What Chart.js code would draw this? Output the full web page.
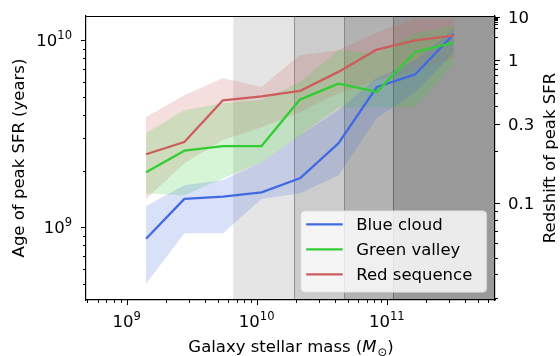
<!DOCTYPE html>
<html>
<head>
<meta charset="utf-8">
<script src="https://cdn.jsdelivr.net/npm/chart.js@4.4.0/dist/chart.umd.min.js"></script>
<style>
  html, body { margin: 0; padding: 0; background: #ffffff; }
  #wrap { width: 560px; height: 356px; }
</style>
</head>
<body>
<div id="wrap"><canvas id="c" width="560" height="356"></canvas></div>
<script>
// Stellar-mass bin centres (solar masses)
const massBins = [1.41e9, 2.78e9, 5.50e9, 1.09e10, 2.15e10, 4.25e10, 8.39e10, 1.66e11, 3.28e11];

// Age of peak star formation (years): median and 16th/84th percentile envelope
const blueMedian = [8.7e8, 1.42e9, 1.46e9, 1.54e9, 1.83e9, 2.81e9, 5.63e9, 6.58e9, 1.08e10];
const blueHigh   = [1.30e9, 1.68e9, 1.79e9, 2.23e9, 3.11e9, 4.23e9, 6.30e9, 7.80e9, 1.15e10];
const blueLow    = [5.0e8, 9.3e8, 9.3e8, 1.42e9, 1.52e9, 1.90e9, 3.84e9, 5.28e9, 8.6e9];

const greenMedian = [1.97e9, 2.57e9, 2.72e9, 2.72e9, 4.82e9, 5.87e9, 5.30e9, 8.66e9, 9.72e9];
const greenHigh   = [3.20e9, 4.23e9, 4.61e9, 4.79e9, 5.97e9, 8.84e9, 8.53e9, 1.09e10, 1.20e10];
const greenLow    = [1.52e9, 1.48e9, 1.83e9, 2.23e9, 3.11e9, 4.39e9, 4.39e9, 4.39e9, 7.54e9];

const redMedian = [2.46e9, 2.86e9, 4.78e9, 5.02e9, 5.36e9, 6.78e9, 8.92e9, 1.00e10, 1.06e10];
const redHigh   = [3.89e9, 5.08e9, 6.29e9, 5.63e9, 8.32e9, 8.84e9, 1.10e10, 1.31e10, 1.31e10];
const redLow    = [1.42e9, 2.20e9, 2.93e9, 3.43e9, 4.13e9, 5.22e9, 6.11e9, 6.92e9, 8.00e9];

// Axis ranges
const massRange = [4.87e8, 6.8e11];
const ageRange = [4.09e8, 1.349e10];

// Labelled ticks
const massMajor = [1e9, 1e10, 1e11];
const massMajorExp = ['9', '10', '11'];
const ageMajor = [1e9, 1e10];
const ageMajorExp = ['9', '10'];

// Redshift axis: redshift ticks and the matching lookback time (years)
const zTicks = [10, 9, 8, 7, 6, 5, 4, 3, 2, 1, 0.9, 0.8, 0.7, 0.6, 0.5, 0.4, 0.3, 0.2, 0.1, 0.09, 0.08, 0.07, 0.06, 0.05, 0.04, 0.03];
const zLookback = [1.328e10, 1.321e10, 1.312e10, 1.300e10, 1.284e10, 1.259e10, 1.223e10, 1.162e10, 1.046e10,
                   7.84e9, 7.44e9, 7.00e9, 6.50e9, 5.92e9, 5.25e9, 4.48e9, 3.58e9, 2.55e9,
                   1.35e9, 1.22e9, 1.09e9, 9.6e8, 8.3e8, 6.9e8, 5.6e8, 4.2e8];
const zLabelled = [10, 1, 0.3, 0.1];
const zLabelText = ['10', '1', '0.3', '0.1'];

// Shaded mass ranges (start of each band; the last runs to the axis edge)
const shadeStarts = [6.6e9, 1.94e10, 4.73e10, 1.11e11];
const shadeAlpha = [0.1, 0.2, 0.3, 0.4];

const groups = [
  { label: 'Blue cloud',   color: '#4169e1', band: 'rgba(65,105,225,0.2)', mid: blueMedian,  hi: blueHigh,  lo: blueLow },
  { label: 'Green valley', color: '#32cd32', band: 'rgba(50,205,50,0.2)',  mid: greenMedian, hi: greenHigh, lo: greenLow },
  { label: 'Red sequence', color: '#cd5c5c', band: 'rgba(205,92,92,0.2)',  mid: redMedian,   hi: redHigh,   lo: redLow }
];

const FONT = '"DejaVu Sans", sans-serif';
const FS = 16.5;

const pts = arr => massBins.map((m, i) => ({ x: m, y: arr[i] }));

const datasets = [];
groups.forEach((g, gi) => {
  datasets.push({
    label: g.label, data: pts(g.mid), borderColor: g.color, backgroundColor: g.color,
    borderWidth: 2.3, pointRadius: 0, fill: false, tension: 0,
    borderJoinStyle: 'round', order: 3 - gi, yAxisID: 'y'
  });
});
groups.forEach((g, gi) => {
  datasets.push({
    label: g.label + ' upper', data: pts(g.hi), borderColor: 'rgba(0,0,0,0)',
    pointRadius: 0, fill: false, tension: 0, order: 20 + gi * 2, yAxisID: 'y'
  });
  datasets.push({
    label: g.label + ' lower', data: pts(g.lo), borderColor: 'rgba(0,0,0,0)',
    backgroundColor: g.band, pointRadius: 0, fill: '-1', tension: 0,
    order: 21 + gi * 2, yAxisID: 'y'
  });
});

// Grey mass-range shading behind the data
const shading = {
  id: 'shading',
  beforeDatasetsDraw(chart) {
    const { ctx, chartArea: ca, scales: { x } } = chart;
    ctx.save();
    ctx.beginPath();
    ctx.rect(ca.left, ca.top, ca.right - ca.left, ca.bottom - ca.top);
    ctx.clip();
    shadeStarts.forEach((s, i) => {
      const x0 = x.getPixelForValue(s);
      const x1 = i < shadeStarts.length - 1 ? x.getPixelForValue(shadeStarts[i + 1]) : ca.right;
      ctx.fillStyle = 'rgba(0,0,0,' + shadeAlpha[i] + ')';
      ctx.fillRect(x0, ca.top, x1 - x0, ca.bottom - ca.top);
    });
    ctx.strokeStyle = 'rgba(0,0,0,0.3)';
    ctx.lineWidth = 1;
    shadeStarts.forEach((s, i) => {
      if (i === 0) return;
      const xp = Math.round(x.getPixelForValue(s)) + 0.5;
      ctx.beginPath();
      ctx.moveTo(xp, ca.top);
      ctx.lineTo(xp, ca.bottom);
      ctx.stroke();
    });
    ctx.restore();
  }
};

function drawPower(ctx, exp, x, yMid, align) {
  ctx.font = FS + 'px ' + FONT;
  const wb = ctx.measureText('10').width;
  ctx.font = (FS * 0.7) + 'px ' + FONT;
  const we = ctx.measureText(exp).width;
  const w = wb + we;
  const x0 = align === 'center' ? x - w / 2 : x - w;
  const base = yMid + 0.729 * FS / 2;
  ctx.textAlign = 'left';
  ctx.textBaseline = 'alphabetic';
  ctx.font = FS + 'px ' + FONT;
  ctx.fillText('10', x0, base);
  ctx.font = (FS * 0.7) + 'px ' + FONT;
  ctx.fillText(exp, x0 + wb, base - FS * 0.45);
}

// Tick marks, tick labels, axis titles, top spine and legend
const decor = {
  id: 'decor',
  afterDraw(chart) {
    const { ctx, chartArea: ca, scales } = chart;
    const xs = scales.x, ys = scales.y, yr = scales.yR;
    ctx.save();
    ctx.strokeStyle = '#000';
    ctx.fillStyle = '#000';

    // top spine
    ctx.lineWidth = 1.2;
    ctx.beginPath();
    ctx.moveTo(ca.left - 0.6, Math.round(ca.top) + 0.5);
    ctx.lineTo(ca.right + 0.6, Math.round(ca.top) + 0.5);
    ctx.stroke();

    ctx.lineWidth = 1;
    const tickX = (v, len) => {
      const p = Math.round(xs.getPixelForValue(v)) + 0.5;
      if (p < ca.left - 0.5 || p > ca.right + 0.5) return;
      ctx.beginPath(); ctx.moveTo(p, ca.bottom); ctx.lineTo(p, ca.bottom + len); ctx.stroke();
    };
    const tickYL = (v, len) => {
      const p = Math.round(ys.getPixelForValue(v)) + 0.5;
      if (p < ca.top - 0.5 || p > ca.bottom + 0.5) return;
      ctx.beginPath(); ctx.moveTo(ca.left, p); ctx.lineTo(ca.left - len, p); ctx.stroke();
    };
    const tickYR = (v, len) => {
      const p = Math.round(yr.getPixelForValue(v)) + 0.5;
      if (p < ca.top - 0.5 || p > ca.bottom + 0.5) return;
      ctx.beginPath(); ctx.moveTo(ca.right, p); ctx.lineTo(ca.right + len, p); ctx.stroke();
    };

    // log minor ticks on the mass and age axes
    for (let d = 8; d <= 11; d++) {
      for (let k = 2; k <= 9; k++) {
        const v = k * Math.pow(10, d);
        if (v >= massRange[0] && v <= massRange[1]) tickX(v, 3);
        if (v >= ageRange[0] && v <= ageRange[1]) tickYL(v, 3);
      }
    }
    massMajor.forEach((v, i) => {
      tickX(v, 5);
      drawPower(ctx, massMajorExp[i], xs.getPixelForValue(v), ca.bottom + 21, 'center');
    });
    ageMajor.forEach((v, i) => {
      tickYL(v, 5);
      drawPower(ctx, ageMajorExp[i], ca.left - 14, ys.getPixelForValue(v), 'right');
    });

    // redshift axis
    zTicks.forEach((z, i) => {
      const li = zLabelled.indexOf(z);
      tickYR(zLookback[i], li >= 0 ? 5 : 3);
      if (li >= 0) {
        ctx.font = FS + 'px ' + FONT;
        ctx.textAlign = 'left';
        ctx.textBaseline = 'alphabetic';
        ctx.fillText(zLabelText[li], ca.right + 13, yr.getPixelForValue(zLookback[i]) + 0.729 * FS / 2);
      }
    });

    // axis titles
    const midY = (ca.top + ca.bottom) / 2;
    ctx.font = FS + 'px ' + FONT;
    ctx.textAlign = 'center';
    ctx.textBaseline = 'alphabetic';
    ctx.save();
    ctx.translate(24, midY);
    ctx.rotate(-Math.PI / 2);
    ctx.fillText('Age of peak SFR (years)', 0, 0);
    ctx.restore();
    ctx.save();
    ctx.translate(555, midY);
    ctx.rotate(-Math.PI / 2);
    ctx.fillText('Redshift of peak SFR', 0, 0);
    ctx.restore();

    // x title with italic M and subscript sun symbol
    const parts = [
      { t: 'Galaxy stellar mass (', f: FS + 'px ' + FONT, dy: 0 },
      { t: 'M', f: 'oblique ' + FS + 'px ' + FONT, dy: 0 },
      { t: '\u2299', f: (FS * 0.7) + 'px ' + FONT, dy: 3.5 },
      { t: ')', f: FS + 'px ' + FONT, dy: 0 }
    ];
    let total = 0;
    parts.forEach(p => { ctx.font = p.f; p.w = ctx.measureText(p.t).width; total += p.w; });
    let xx = (ca.left + ca.right) / 2 - total / 2;
    ctx.textAlign = 'left';
    parts.forEach(p => { ctx.font = p.f; ctx.fillText(p.t, xx, 352 + p.dy); xx += p.w + (p.t === 'M' ? 1 : 0); });

    // legend
    const lw = 186, lh = 81.5;
    const lx = ca.right - 8.3 - lw, ly = ca.bottom - 7.7 - lh;
    ctx.beginPath();
    ctx.roundRect(lx, ly, lw, lh, 4);
    ctx.fillStyle = 'rgba(255,255,255,0.8)';
    ctx.fill();
    ctx.strokeStyle = 'rgba(204,204,204,0.8)';
    ctx.lineWidth = 1;
    ctx.stroke();
    groups.forEach((g, i) => {
      const ry = ly + 13.5 + i * 25;
      ctx.strokeStyle = g.color;
      ctx.lineWidth = 2.3;
      ctx.beginPath();
      ctx.moveTo(lx + 5.5, ry);
      ctx.lineTo(lx + 42, ry);
      ctx.stroke();
      ctx.fillStyle = '#000';
      ctx.font = FS + 'px ' + FONT;
      ctx.textAlign = 'left';
      ctx.textBaseline = 'alphabetic';
      ctx.fillText(g.label, lx + 55.5, ry + 0.729 * FS / 2);
    });
    ctx.restore();
  }
};

const axisBase = {
  type: 'logarithmic',
  grid: { display: false },
  ticks: { display: false },
  border: { display: true, color: '#000', width: 1.2 }
};

new Chart(document.getElementById('c'), {
  type: 'line',
  data: { datasets },
  options: {
    responsive: false,
    devicePixelRatio: 1,
    animation: false,
    parsing: true,
    layout: { padding: { top: 16, left: 0, right: 0, bottom: 0 } },
    plugins: { legend: { display: false }, tooltip: { enabled: false } },
    scales: {
      x: Object.assign({}, axisBase, {
        position: 'bottom', min: massRange[0], max: massRange[1],
        afterFit: s => { s.height = 56; }
      }),
      y: Object.assign({}, axisBase, {
        position: 'left', min: ageRange[0], max: ageRange[1],
        afterFit: s => { s.width = 86; }
      }),
      yR: Object.assign({}, axisBase, {
        position: 'right', min: ageRange[0], max: ageRange[1],
        afterFit: s => { s.width = 65; }
      })
    }
  },
  plugins: [shading, decor]
});
</script>
</body>
</html>
